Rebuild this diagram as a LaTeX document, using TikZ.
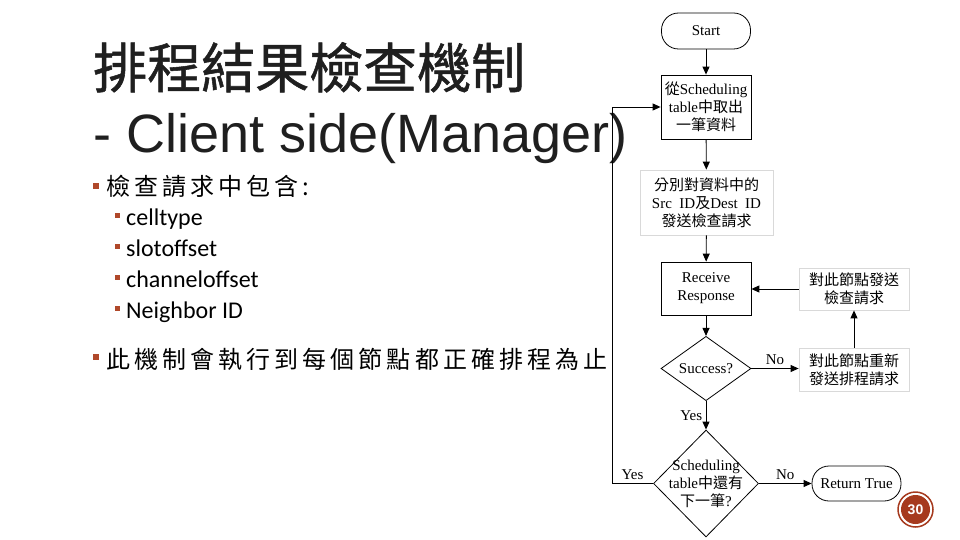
\documentclass[tikz,border=0pt]{standalone}
\usepackage{fontspec}
\setmainfont{Liberation Serif}
\newfontfamily\arialfont{Liberation Sans}
\newfontfamily\calibrifont{Carlito}
\newfontfamily\cjktitle{Noto Sans CJK TC}[FakeBold=1]
\newfontfamily\cjkbody{Noto Sans CJK TC}[LetterSpace=17]
\newfontfamily\cjkchart{Noto Sans CJK TC}
\usetikzlibrary{arrows.meta,%
                shapes.geometric}
\definecolor{slidered}{RGB}{166,58,30}
\definecolor{bulletred}{RGB}{176,72,42}

\begin{document}
\begin{tikzpicture}[x=1pt,y=-1pt,
  flow/.style={line width=0.9pt,-{Triangle[length=8pt,width=7pt]}},
  box/.style={draw,line width=0.8pt,align=center,inner sep=1pt,font=\fontsize{15}{18}\selectfont},
  softbox/.style={box,draw=black!15},
  pill/.style={box,rounded corners=17pt},
  decide/.style={box,diamond,inner sep=0pt},
  tag/.style={font=\fontsize{15}{18}\selectfont},
  dotA/.style={fill=bulletred,minimum size=6pt,inner sep=0pt},
  dotB/.style={fill=bulletred,minimum size=5pt,inner sep=0pt},
  item/.style={anchor=base west,inner sep=0pt,font=\calibrifont\fontsize{24}{28}\selectfont},
  say/.style={anchor=base west,inner sep=0pt,font=\cjkbody\fontsize{24}{28}\selectfont}]
\useasboundingbox (0,0) rectangle (960,540);
\node[anchor=base west,inner sep=0pt,text=black!88,font=\cjktitle\fontsize{54}{60}\selectfont] (title) at (93,88) {排程結果檢查機制};
\node[anchor=base west,inner sep=0pt,text=black!88,font=\arialfont\fontsize{54}{60}\selectfont] (subtitle) at (93,153) {- Client side(Manager)};
\node[dotA] (b1) at (95.5,185.5) {};
\node[say] (need) at (106,196) {檢查請求中包含:};
\foreach \t [count=\i] in {celltype,slotoffset,channeloffset,Neighbor ID}{
  \node[dotB] (d\i) at (117.5,184.5+31*\i) {};
  \node[item] (f\i) at (126,194+31*\i) {\t};
}
\node[dotA] (b2) at (95.5,356.5) {};
\node[say] (until) at (106,368) {此機制會執行到每個節點都正確排程為止};
\node[pill,minimum width=89pt,minimum height=36pt] (start) at (706,31) {Start};
\node[box,minimum width=90pt,minimum height=64pt] (fetch) at (706,107) {{\cjkchart 從}Scheduling\\table{\cjkchart 中取出}\\{\cjkchart 一筆資料}};
\node[softbox,minimum width=133pt,minimum height=65pt] (send) at (706.5,202.5) {{\cjkchart 分別對資料中的}\\Src\ \ ID{\cjkchart 及}Dest\ \ ID\\{\cjkchart 發送檢查請求}};
\node[box,minimum width=90pt,minimum height=53pt] (recv) at (706,288.5) {Receive\\Response};
\node[decide,minimum width=90pt,minimum height=53pt] (ok) at (706,368.5) {Success?};
\node[softbox,minimum width=110pt,minimum height=43pt] (resend) at (854,369.5) {{\cjkchart 對此節點重新}\\{\cjkchart 發送排程請求}};
\node[softbox,minimum width=110pt,minimum height=42pt] (recheck) at (854,289) {{\cjkchart 對此節點發送}\\{\cjkchart 檢查請求}};
\node[decide,minimum width=105pt,minimum height=107pt] (more) at (706,483.5) {};
\node[tag,align=center] (moretext) at (more.center) {Scheduling\\table{\cjkchart 中還有}\\{\cjkchart 下一筆}?};
\node[pill,minimum width=89pt,minimum height=35pt] (done) at (856.5,483.5) {Return True};
\coordinate (back) at (612,483.5);
\draw[flow] (start) -- (fetch);
\draw[flow] (fetch) -- (send);
\draw[flow] (send) -- (recv);
\draw[flow] (recv) -- (ok);
\draw[flow] (ok) -- node[tag,left] {Yes} (more);
\draw[flow] (ok.east) -- node[tag,above] {No} (ok.east -| resend.west);
\draw[flow] (resend) -- (recheck);
\draw[flow] (recheck.west) -- (recheck.west -| recv.east);
\draw[flow] (more) -- node[tag,above] {No} (done);
\draw[flow] (more.west) -- node[tag,above] {Yes} (back) |- (fetch.west);
\node[circle,draw=slidered,line width=1.5pt,minimum size=35pt,inner sep=0pt] (ring) at (915.5,509.5) {};
\node[circle,fill=slidered,minimum size=29pt,inner sep=0pt,text=white,font=\arialfont\bfseries\fontsize{14}{14}\selectfont] (page) at (ring.center) {30};
\end{tikzpicture}
\end{document}
